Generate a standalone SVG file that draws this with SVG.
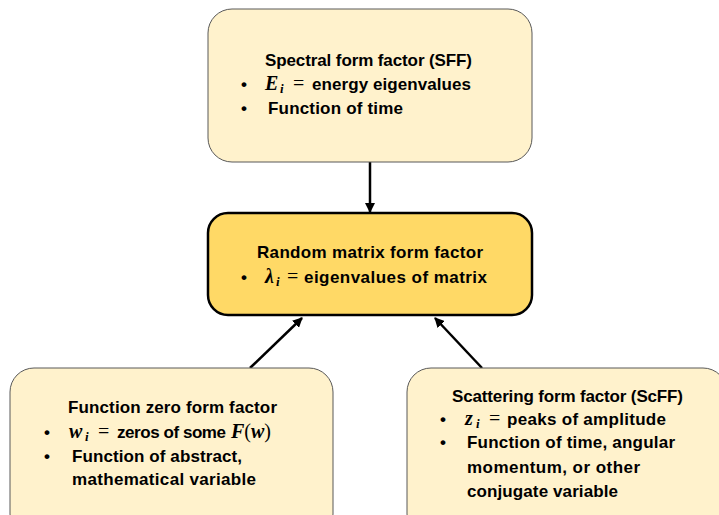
<svg xmlns="http://www.w3.org/2000/svg" width="719" height="515" viewBox="0 0 719 515">
<defs>
<marker id="ah" viewBox="0 0 10 10" refX="9" refY="5" markerWidth="4" markerHeight="4" orient="auto" markerUnits="strokeWidth">
<path d="M0,0 L10,5 L0,10 z" fill="#000"/>
</marker>
<style>
.box{fill:#FFF2CC;stroke:#595959;stroke-width:1}
.main{fill:#FFD966;stroke:#000;stroke-width:2.5}
.t{font-family:"Liberation Sans",Arial,sans-serif;font-weight:bold;font-size:17px;fill:#000}
.m{font-family:"Liberation Serif","Times New Roman",serif;font-weight:bold;font-style:italic;font-size:20px;fill:#000}
.eq{font-family:"Liberation Serif","Times New Roman",serif;font-size:20px;fill:#000}
.sub{font-size:13px}
.c{stroke:#000;stroke-width:2.5;fill:none}
</style>
</defs>
<rect width="719" height="515" fill="#fff"/>
<g id="connectors">
<line class="c" x1="370" y1="162" x2="370" y2="212" marker-end="url(#ah)"/>
<line class="c" x1="250" y1="368" x2="302" y2="318" marker-end="url(#ah)"/>
<line class="c" x1="482" y1="368" x2="435" y2="318" marker-end="url(#ah)"/>
</g>
<g id="sff">
<rect class="box" x="208" y="9" width="324" height="153" rx="24"/>
<text class="t" x="265" y="66" textLength="207">Spectral form factor (SFF)</text>
<text class="t" x="241" y="90">•</text>
<text class="m" x="265" y="90">E</text>
<text class="m sub" x="280" y="93">i</text>
<text class="eq" x="293" y="90">=</text>
<text class="t" x="312" y="90" textLength="159">energy eigenvalues</text>
<text class="t" x="241" y="114">•</text>
<text class="t" x="268" y="114" textLength="135">Function of time</text>
</g>
<g id="rmff">
<rect class="main" x="208" y="213" width="324" height="102" rx="20"/>
<text class="t" x="257" y="258" textLength="226">Random matrix form factor</text>
<text class="t" x="241" y="283">•</text>
<text class="m" x="265" y="283">λ</text>
<text class="m sub" x="276" y="286">i</text>
<text class="eq" x="287" y="283">=</text>
<text class="t" x="304" y="283" textLength="183">eigenvalues of matrix</text>
</g>
<g id="fzff">
<rect class="box" x="10" y="368" width="323" height="170" rx="24"/>
<text class="t" x="68" y="413" textLength="209">Function zero form factor</text>
<text class="t" x="44" y="438">•</text>
<text class="m" x="69" y="438">w</text>
<text class="m sub" x="85" y="441">i</text>
<text class="eq" x="98" y="438">=</text>
<text class="t" x="117" y="438" textLength="109">zeros of some</text>
<text x="231" y="438"><tspan class="m">F</tspan><tspan class="eq">(</tspan><tspan class="m">w</tspan><tspan class="eq">)</tspan></text>
<text class="t" x="44" y="462">•</text>
<text class="t" x="72" y="462" textLength="170">Function of abstract,</text>
<text class="t" x="72" y="485" textLength="184">mathematical variable</text>
</g>
<g id="scff">
<rect class="box" x="407" y="368" width="320" height="170" rx="24"/>
<text class="t" x="452" y="402" textLength="231">Scattering form factor (ScFF)</text>
<text class="t" x="440" y="425">•</text>
<text class="m" x="465" y="425">z</text>
<text class="m sub" x="476" y="428">i</text>
<text class="eq" x="489" y="425">=</text>
<text class="t" x="507" y="425" textLength="159">peaks of amplitude</text>
<text class="t" x="440" y="448">•</text>
<text class="t" x="467" y="448" textLength="208">Function of time, angular</text>
<text class="t" x="467" y="473" textLength="173">momentum, or other</text>
<text class="t" x="467" y="497" textLength="151">conjugate variable</text>
</g>
</svg>
